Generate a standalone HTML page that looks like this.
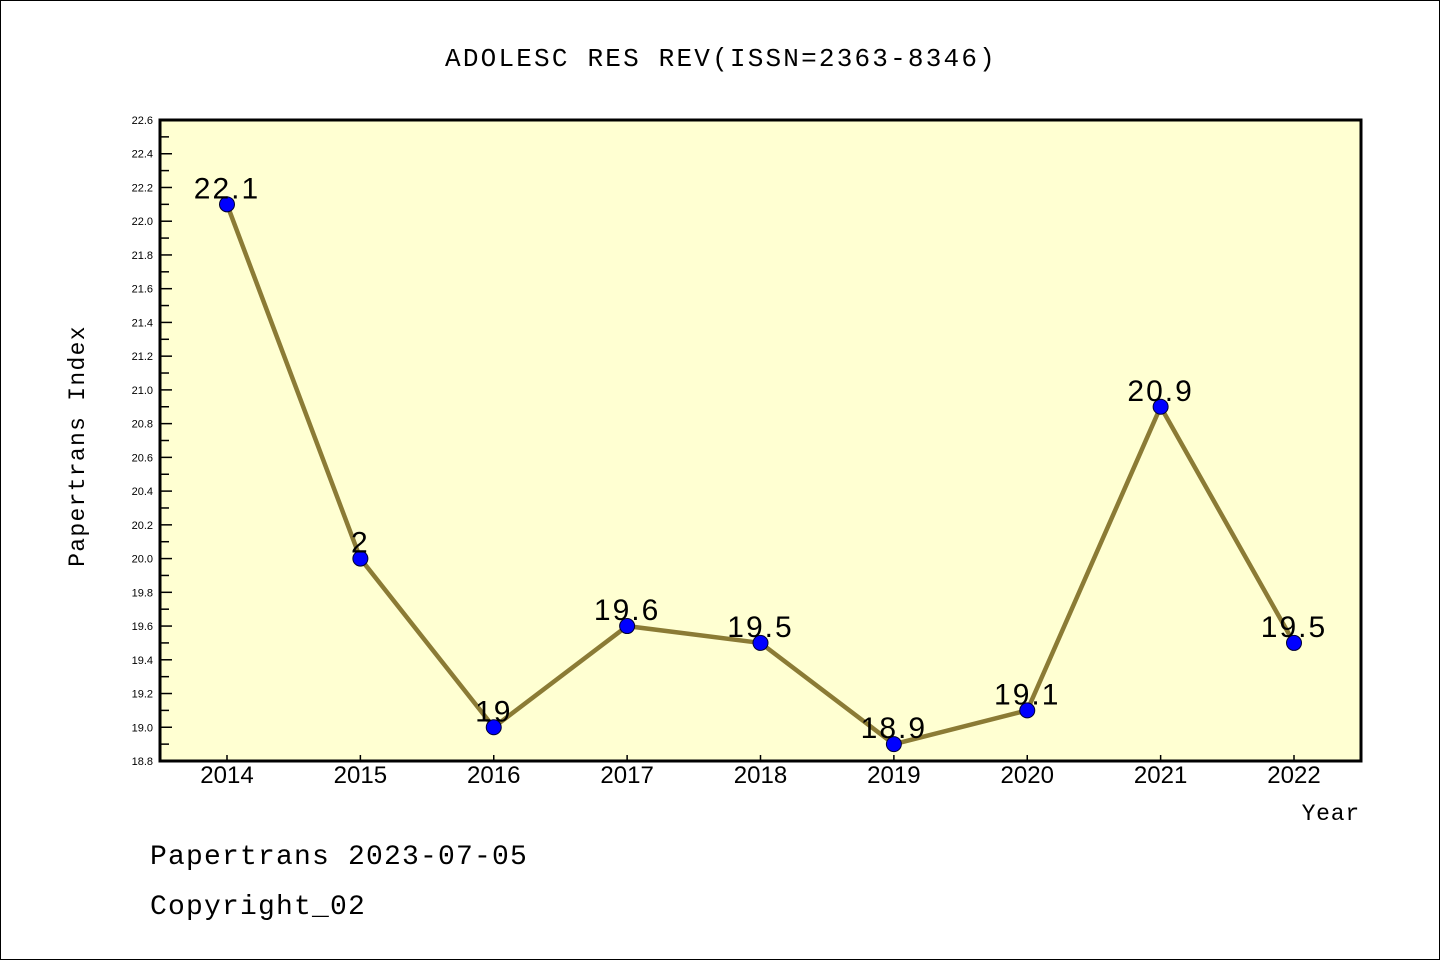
<!DOCTYPE html>
<html><head><meta charset="utf-8"><style>
html,body{margin:0;padding:0;background:#fff}
svg{display:block}
</style></head><body>
<svg id="chart" width="1440" height="960" xmlns="http://www.w3.org/2000/svg">
<rect x="0.5" y="0.5" width="1439" height="959" fill="#fff" stroke="#000"/>
<text x="721" y="66" text-anchor="middle" font-family="Liberation Mono, monospace" font-size="26" letter-spacing="2.2" fill="#000">ADOLESC RES REV(ISSN=2363-8346)</text>
<rect x="160" y="120" width="1201" height="641" fill="#ffffd2" stroke="#000" stroke-width="3"/>
<g id="yaxis"></g>
<g id="xaxis"></g>
<g id="series"></g>
<text transform="translate(84,446) rotate(-90)" text-anchor="middle" font-family="Liberation Mono, monospace" font-size="23" letter-spacing="1.3" fill="#000">Papertrans Index</text>
<text x="1360" y="820" text-anchor="end" font-family="Liberation Mono, monospace" font-size="23" letter-spacing="0.8" fill="#000">Year</text>
<text x="150" y="864" font-family="Liberation Mono, monospace" font-size="28" letter-spacing="1.2" fill="#000">Papertrans 2023-07-05</text>
<text x="150" y="914" font-family="Liberation Mono, monospace" font-size="28" letter-spacing="1.2" fill="#000">Copyright_02</text>
</svg>
<script>
const years = [2014,2015,2016,2017,2018,2019,2020,2021,2022];
const values = [22.1,20.0,19.0,19.6,19.5,18.9,19.1,20.9,19.5];
const valueLabels = ["22.1","2","19","19.6","19.5","18.9","19.1","20.9","19.5"];
const yTicks = [18.8,19.0,19.2,19.4,19.6,19.8,20.0,20.2,20.4,20.6,20.8,21.0,21.2,21.4,21.6,21.8,22.0,22.2,22.4,22.6];
const NS="http://www.w3.org/2000/svg";
const yMin=18.8,yMax=22.6,plotTop=120,plotBot=761;
function y(v){return plotBot-(v-yMin)/(yMax-yMin)*(plotBot-plotTop);}
function x(yr){return 227+(yr-2014)*(1294-227)/8;}
function mk(tag,attrs,parent){const e=document.createElementNS(NS,tag);for(const k in attrs)e.setAttribute(k,attrs[k]);parent.appendChild(e);return e;}
const ya=document.getElementById('yaxis'),xa=document.getElementById('xaxis'),sg=document.getElementById('series');
yTicks.forEach((t,i)=>{
  const yy=y(t);
  const l=mk('line',{x1:160,x2:172,y1:yy,y2:yy,stroke:'#000','stroke-width':1.5},ya);
  
  
  if(i<yTicks.length-1){const ym=y(t+0.1);const m=mk('line',{x1:160,x2:169,y1:ym,y2:ym,stroke:'#000','stroke-width':1.5},ya);
  
  }
  const tx=mk('text',{x:153,y:yy+4,'text-anchor':'end','font-family':'Liberation Sans, sans-serif','font-size':11,fill:'#000'},ya);
  tx.textContent=t.toFixed(1);
  
  
});
years.forEach(yr=>{
  const xx=x(yr);
  const l=mk('line',{x1:xx,x2:xx,y1:761,y2:755,stroke:'#000','stroke-width':1.5},xa);
  
  
  const t=mk('text',{x:xx,y:783,'text-anchor':'middle','font-family':'Liberation Sans, sans-serif','font-size':24,fill:'#000'},xa);
  t.textContent=yr;
  
  
});
const pts=years.map((yr,i)=>x(yr)+','+y(values[i])).join(' ');
const pl=mk('polyline',{points:pts,fill:'none',stroke:'#8b7b35','stroke-width':4.5,'stroke-linejoin':'round'},sg);


years.forEach((yr,i)=>{
  const c=mk('circle',{cx:x(yr),cy:y(values[i]),r:7.5,fill:'#0000ff',stroke:'#000033','stroke-width':1},sg);
  
  
  const t=mk('text',{x:x(yr),y:y(values[i])-6,'text-anchor':'middle','font-family':'Liberation Sans, sans-serif','font-size':30,'letter-spacing':2,fill:'#000'},sg);
  t.textContent=valueLabels[i];
  
  
});
</script>
</body></html>
